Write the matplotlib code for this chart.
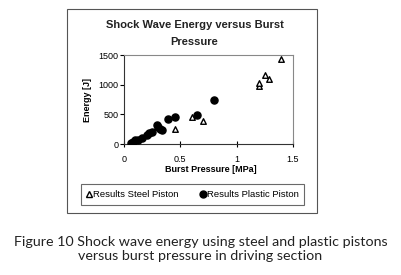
import matplotlib
matplotlib.use("Agg")
import matplotlib.pyplot as plt
from matplotlib.patches import Rectangle
from matplotlib.lines import Line2D

plt.rcParams['font.family'] = ['Liberation Sans', 'DejaVu Sans']

steel_x = [0.45, 0.60, 0.70, 1.20, 1.20, 1.25, 1.29, 1.39]
steel_y = [250, 450, 393, 980, 1030, 1163, 1090, 1428]

plastic_x = [0.06, 0.08, 0.10, 0.12, 0.16, 0.20, 0.22, 0.25, 0.29, 0.30, 0.32, 0.34, 0.39, 0.45, 0.645, 0.80]
plastic_y = [25, 40, 60, 75, 100, 160, 185, 205, 320, 290, 260, 235, 420, 460, 490, 740]

x_ticks = [0, 0.5, 1, 1.5]
x_tick_labels = ['0', '0.5', '1', '1.5']
y_ticks = [0, 500, 1000, 1500]

W, H = 401, 275
fig = plt.figure(figsize=(W / 100, H / 100), dpi=100)
fig.patch.set_facecolor('white')

# outer chart frame
fig.patches.append(Rectangle((67 / W, 1 - 213 / H), (317 - 67) / W, (213 - 9) / H,
                             transform=fig.transFigure, fill=False,
                             edgecolor='#555555', linewidth=0.8))

ax = fig.add_axes([124 / W, 1 - 144 / H, (293 - 124) / W, (144 - 55) / H])
ax.scatter(steel_x, steel_y, marker='^', facecolors='white', edgecolors='black',
           s=16, linewidths=1.0, zorder=3)
ax.scatter(plastic_x, plastic_y, marker='o', color='black', s=26, zorder=3)

ax.set_xlim(0, 1.5)
ax.set_ylim(0, 1500)
ax.set_xticks(x_ticks)
ax.set_xticklabels(x_tick_labels)
ax.set_yticks(y_ticks)
ax.tick_params(axis='x', direction='inout', length=4, width=0.8, labelsize=6.5, pad=6)
ax.tick_params(axis='y', direction='out', length=3, width=0.8, labelsize=6.5, pad=1)
for side in ['top', 'right']:
    ax.spines[side].set_color('#888888')
    ax.spines[side].set_linestyle((0, (1, 1)))
    ax.spines[side].set_linewidth(0.8)
for side in ['left', 'bottom']:
    ax.spines[side].set_color('#333333')
    ax.spines[side].set_linewidth(0.8)

ax.set_ylabel('Energy [J]', fontsize=6.5, fontweight='bold', labelpad=5)
fig.text(211 / W, 1 - 170 / H, 'Burst Pressure [MPa]', ha='center', va='center',
         fontsize=6.5, fontweight='bold')

fig.text(195 / W, 1 - 25 / H, 'Shock Wave Energy versus Burst', ha='center', va='center',
         fontsize=8, fontweight='bold', color='#222222')
fig.text(194 / W, 1 - 42 / H, 'Pressure', ha='center', va='center',
         fontsize=8, fontweight='bold', color='#222222')

handles = [
    Line2D([], [], marker='^', linestyle='none', markerfacecolor='white',
           markeredgecolor='black', markersize=4.5, markeredgewidth=1.0),
    Line2D([], [], marker='o', linestyle='none', color='black', markersize=5),
]
leg = fig.legend(handles, ['Results Steel Piston', 'Results Plastic Piston'],
                 loc='center', bbox_to_anchor=(192.5 / W, 1 - 194.5 / H), ncol=2,
                 fontsize=6.8, frameon=True, fancybox=False, edgecolor='#444444',
                 handlelength=0.6, handletextpad=0.15, columnspacing=2.2,
                 borderpad=0.6)
leg.get_frame().set_linewidth(0.8)

fig.text(W / 2 / W, 1 - 242 / H, 'Figure 10 Shock wave energy using steel and plastic pistons',
         ha='center', va='center', fontsize=10.3, family=['Lato', 'DejaVu Sans'], color='#222222')
fig.text(W / 2 / W, 1 - 255.5 / H, 'versus burst pressure in driving section',
         ha='center', va='center', fontsize=10.3, family=['Lato', 'DejaVu Sans'], color='#222222')

fig.savefig('out.png', dpi=100, facecolor='white')
